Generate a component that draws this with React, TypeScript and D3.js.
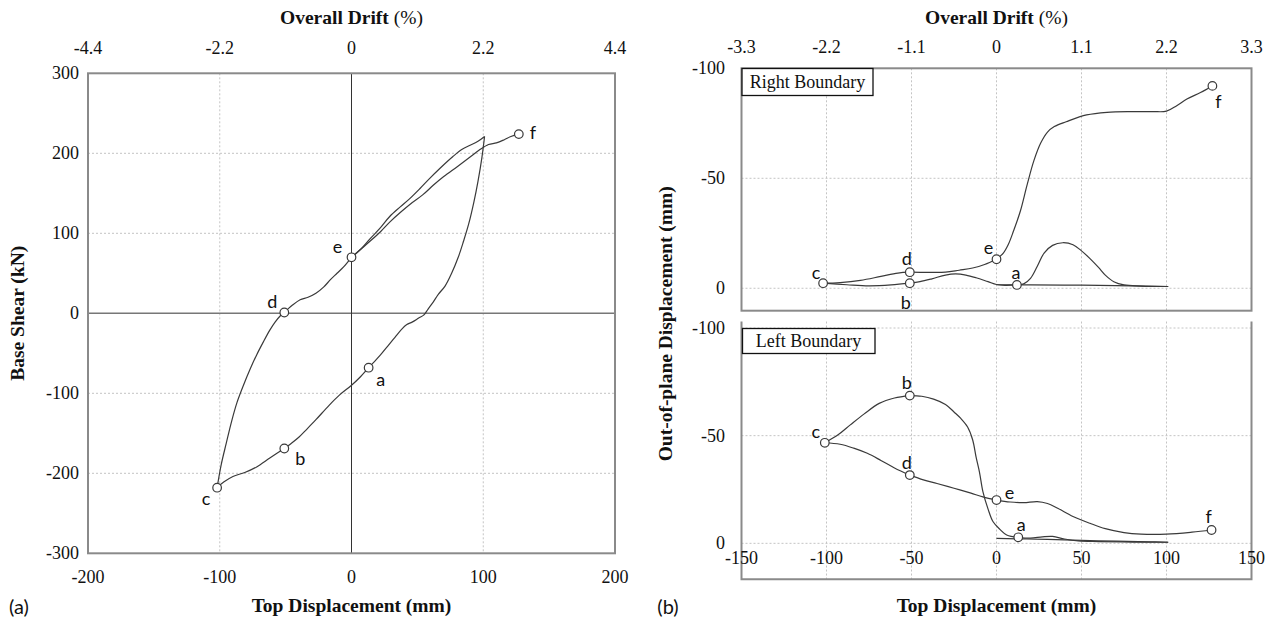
import React from 'react';
import * as d3 from 'd3';

type Pt = [number, number];

// ---------- Panel (a): base shear (kN) against top displacement (mm) ----------
const shearLoadToPeak: Pt[] = [
  [0, 70], [7, 80], [14, 93], [22, 107], [29, 121], [37, 133], [44, 143], [52, 156],
  [59, 168], [67, 181], [77, 196], [84, 205], [90, 210], [96, 215], [101, 221],
];
const shearUnloadToA: Pt[] = [
  [101, 221], [99, 195], [96, 165], [93, 140], [89, 112], [85, 90], [81, 70], [76, 50],
  [71, 34], [66, 24], [62, 14], [58, 5], [55, -2], [51, -6], [46, -11], [42, -14],
  [38, -20], [33, -30], [28, -40], [22, -52], [17, -61], [13, -68],
];
const shearAtoB: Pt[] = [
  [13, -68], [7, -79], [0, -90], [-9, -102], [-17, -115], [-27, -133], [-34, -145],
  [-40, -155], [-46, -163], [-51, -169],
];
const shearBtoC: Pt[] = [
  [-51, -169], [-62, -181], [-72, -192], [-81, -199], [-90, -204], [-97, -211], [-102, -218],
];
const shearCtoD: Pt[] = [
  [-102, -218], [-99, -190], [-95, -162], [-91, -135], [-87, -112], [-82, -90], [-77, -70],
  [-72, -52], [-67, -36], [-62, -21], [-58, -11], [-54, -3], [-51, 1],
];
const shearDtoE: Pt[] = [
  [-51, 1], [-45, 10], [-39, 17], [-33, 20], [-27, 25], [-21, 33], [-16, 42], [-11, 50],
  [-6, 58], [0, 70],
];
const shearEtoF: Pt[] = [
  [0, 70], [7, 80], [14, 90], [22, 102], [29, 114], [37, 126], [45, 137], [54, 148],
  [62, 160], [70, 171], [80, 183], [89, 194], [97, 204], [104, 211], [110, 213],
  [116, 217], [121, 221], [127, 224],
];
const shearMarkers: Pt[] = [[13, -68], [-51, -169], [-102, -218], [-51, 1], [0, 70], [127, 224]];

// ---------- Panel (b): out-of-plane displacement (mm) at the two boundaries ----------
const rightInitial: Pt[] = [[0, -1.6], [20, -1.5], [50, -1.4], [80, -1.1], [101, -0.8]];
const rightReturnToA: Pt[] = [
  [101, -0.8], [85, -1], [75, -1.5], [69, -3], [64, -6], [60, -9.5], [55, -13.5], [50, -17],
  [45, -19.8], [39, -20.7], [33, -19.5], [28, -16], [24, -10], [20, -4.5], [16, -2], [12, -1.5],
];
const rightAtoB: Pt[] = [
  [12, -1.5], [5, -1.3], [0, -1.7], [-5, -3], [-12, -4.8], [-18, -6], [-24, -6.5],
  [-30, -6], [-38, -4.3], [-45, -3], [-51, -2.3],
];
const rightBtoC: Pt[] = [[-51, -2.3], [-62, -1.5], [-75, -1.1], [-88, -1.6], [-102, -2.3]];
const rightCtoD: Pt[] = [[-102, -2.3], [-92, -2.6], [-80, -3.6], [-68, -5.4], [-58, -6.9], [-51, -7.3]];
const rightDtoE: Pt[] = [
  [-51, -7.3], [-40, -7.2], [-30, -7.3], [-22, -8.2], [-14, -9.2], [-7, -10.8], [0, -13.2],
];
const rightEtoF: Pt[] = [
  [0, -13.2], [4, -16], [7, -20], [10, -26], [14, -35], [18, -47], [22, -58], [26, -66],
  [30, -71], [34, -73.5], [41, -75.7], [53, -78.8], [65, -80], [80, -80.3], [92, -80.3],
  [100, -80.5], [106, -83], [112, -86], [120, -89], [127, -92],
];
const rightMarkers: Pt[] = [[12, -1.5], [-51, -2.3], [-102, -2.3], [-51, -7.3], [0, -13.2], [127, -92]];

const leftInitial: Pt[] = [[0, -2.3], [30, -1.8], [60, -1.2], [90, -0.7], [101, -0.5]];
const leftReturnToA: Pt[] = [
  [101, -0.5], [80, -0.6], [60, -0.8], [48, -1.1], [40, -2], [33, -3.2], [27, -3],
  [20, -2.4], [12.8, -2.8],
];
const leftAtoB: Pt[] = [
  [12.8, -2.8], [6, -3.9], [2, -6.5], [-2, -10], [-5, -16], [-8, -24], [-10, -33],
  [-12, -40], [-14, -48], [-17, -54], [-21, -58], [-25, -61], [-30, -64.5], [-37, -67],
  [-44, -68.3], [-51, -68.6],
];
const leftBtoC: Pt[] = [
  [-51, -68.6], [-60, -67.5], [-69, -65], [-78, -60], [-86, -55], [-93, -50.5], [-101, -46.7],
];
const leftCtoD: Pt[] = [
  [-101, -46.7], [-92, -46], [-84, -44.2], [-76, -41.8], [-68, -38.5], [-60, -35], [-51, -31.7],
];
const leftDtoE: Pt[] = [
  [-51, -31.7], [-43, -29.5], [-35, -27.8], [-25, -25.6], [-15, -23.3], [-8, -21.6], [0, -20.1],
];
const leftEtoF: Pt[] = [
  [0, -20.1], [8, -19.2], [16, -18.9], [24, -19.4], [30, -18.5], [36, -16.3], [45, -12.5],
  [55, -9.3], [64, -6.8], [75, -5], [85, -4.3], [100, -4.3], [115, -5.2], [126.5, -6.2],
];
const leftMarkers: Pt[] = [[12.8, -2.8], [-51, -68.6], [-101, -46.7], [-51, -31.7], [0, -20.1], [126.5, -6.2]];

const markerLetters = ['a', 'b', 'c', 'd', 'e', 'f'];

// ---------- ticks ----------
const shearTicks = [-300, -200, -100, 0, 100, 200, 300];
const dispTicksA = [-200, -100, 0, 100, 200];
const driftTicksA = [-4.4, -2.2, 0, 2.2, 4.4];
const dispTicksB = [-150, -100, -50, 0, 50, 100, 150];
const driftTicksB = [-3.3, -2.2, -1.1, 0, 1.1, 2.2, 3.3];
const outTicks = [-100, -50, 0];

// ---------- layout / style ----------
const SERIF = "'Liberation Serif', 'Times New Roman', Times, serif";
const SANS = "Lato, 'Open Sans', 'Noto Sans', sans-serif";
const FRAME = '#8a8a8a';
const GRID = '#c4c4c4';
const CURVE = '#3a3a3a';

// letter offsets (px) from each marker, order a..f
const offsetsA: Pt[] = [[12, 11], [16, 9], [-11, 10], [-12, -12], [-14, -11], [14, -2]];
const offsetsBR: Pt[] = [[-1, -13], [-4, 19], [-7, -11], [-3, -14], [-8, -12], [6, 15]];
const offsetsBL: Pt[] = [[3, -13], [-3, -14], [-9, -12], [-3, -13], [13, -8], [-3, -14]];

const xA = d3.scaleLinear().domain([-200, 200]).range([88, 615]);
const yA = d3.scaleLinear().domain([-300, 300]).range([553.3, 73.3]);
const xAd = d3.scaleLinear().domain([-4.4, 4.4]).range([88, 615]);

const xB = d3.scaleLinear().domain([-150, 150]).range([741.5, 1251.5]);
const xBd = d3.scaleLinear().domain([-3.3, 3.3]).range([741.5, 1251.5]);
const yBR = d3.scaleLinear().domain([-100, 10.2]).range([68.3, 310.7]);
const yBL = d3.scaleLinear().domain([-100, 16.7]).range([328, 579.3]);

function Curves({ segs, x, y }: { segs: Pt[][]; x: any; y: any }) {
  const line = d3
    .line<Pt>()
    .x((d) => x(d[0]))
    .y((d) => y(d[1]))
    .curve(d3.curveCatmullRom.alpha(0.5));
  return (
    <g fill="none" stroke={CURVE} strokeWidth={1.2} strokeLinejoin="round">
      {segs.map((s, i) => (
        <path key={i} d={line(s) || ''} />
      ))}
    </g>
  );
}

function Markers({ pts, offs, x, y }: { pts: Pt[]; offs: Pt[]; x: any; y: any }) {
  return (
    <g>
      {pts.map((p, i) => (
        <g key={i}>
          <circle cx={x(p[0])} cy={y(p[1])} r={4.3} fill="#fff" stroke={CURVE} strokeWidth={1.2} />
          <text
            x={x(p[0]) + offs[i][0]}
            y={y(p[1]) + offs[i][1]}
            textAnchor="middle"
            dominantBaseline="central"
            fontFamily={SANS}
            fontSize={18}
            fill="#111"
          >
            {markerLetters[i]}
          </text>
        </g>
      ))}
    </g>
  );
}

function DriftTitle({ x }: { x: number }) {
  return (
    <text x={x} y={24} textAnchor="middle" fontFamily={SERIF} fontSize={19.5} fill="#111">
      <tspan fontWeight="bold">Overall Drift </tspan>
      <tspan>(%)</tspan>
    </text>
  );
}

export default function App() {
  const [ax0, ax1] = xA.range();
  const [ay0, ay1] = [yA(300), yA(-300)];
  const [bx0, bx1] = xB.range();
  const brTop = yBR(-100);
  const brBot = yBR(10.2);
  const blTop = yBL(-103);
  const blBot = yBL(16.7);

  return (
    <svg
      width={1282}
      height={622}
      viewBox="0 0 1282 622"
      style={{ position: 'absolute', left: 0, top: 0, background: '#fff' }}
    >
      <rect x={0} y={0} width={1282} height={622} fill="#fff" />

      {/* ===== (a) ===== */}
      <g>
        {dispTicksA
          .filter((v) => v !== 0 && Math.abs(v) < 200)
          .map((v) => (
            <line key={'gx' + v} x1={xA(v)} x2={xA(v)} y1={ay0} y2={ay1} stroke={GRID} strokeWidth={1} strokeDasharray="2,2" />
          ))}
        {shearTicks
          .filter((v) => v !== 0 && Math.abs(v) < 300)
          .map((v) => (
            <line key={'gy' + v} x1={ax0} x2={ax1} y1={yA(v)} y2={yA(v)} stroke={GRID} strokeWidth={1} strokeDasharray="2,2" />
          ))}
        <line x1={ax0} x2={ax1} y1={yA(0)} y2={yA(0)} stroke="#777" strokeWidth={1.5} />
        <line x1={xA(0)} x2={xA(0)} y1={ay0} y2={ay1} stroke="#333" strokeWidth={1} />
        <rect x={ax0} y={ay0} width={ax1 - ax0} height={ay1 - ay0} fill="none" stroke={FRAME} strokeWidth={2} />

        <Curves
          segs={[shearLoadToPeak, shearUnloadToA, shearAtoB, shearBtoC, shearCtoD, shearDtoE, shearEtoF]}
          x={xA}
          y={yA}
        />
        <Markers pts={shearMarkers} offs={offsetsA} x={xA} y={yA} />

        {shearTicks.map((v) => (
          <text key={'ly' + v} x={79} y={yA(v)} textAnchor="end" dominantBaseline="central" fontFamily={SERIF} fontSize={18} fill="#111">
            {v}
          </text>
        ))}
        {dispTicksA.map((v) => (
          <text key={'lx' + v} x={xA(v)} y={577} textAnchor="middle" dominantBaseline="central" fontFamily={SERIF} fontSize={18} fill="#111">
            {v}
          </text>
        ))}
        {driftTicksA.map((v) => (
          <text key={'ld' + v} x={xAd(v)} y={48} textAnchor="middle" dominantBaseline="central" fontFamily={SERIF} fontSize={18} fill="#111">
            {String(v)}
          </text>
        ))}
        <DriftTitle x={(ax0 + ax1) / 2} />
        <text x={(ax0 + ax1) / 2} y={612} textAnchor="middle" fontFamily={SERIF} fontWeight="bold" fontSize={19.5} fill="#111">
          Top Displacement (mm)
        </text>
        <text
          transform={`translate(24,${yA(0)}) rotate(-90)`}
          textAnchor="middle"
          fontFamily={SERIF}
          fontWeight="bold"
          fontSize={19.5}
          fill="#111"
        >
          Base Shear (kN)
        </text>
        <text x={19} y={606} textAnchor="middle" dominantBaseline="central" fontFamily={SANS} fontSize={20} fill="#111">
          (a)
        </text>
      </g>

      {/* ===== (b) ===== */}
      <g>
        {/* gridlines, right boundary panel */}
        {dispTicksB
          .filter((v) => Math.abs(v) < 150)
          .map((v) => (
            <line key={'rgx' + v} x1={xB(v)} x2={xB(v)} y1={brTop} y2={brBot} stroke={GRID} strokeWidth={1} strokeDasharray="2,2" />
          ))}
        {outTicks
          .filter((v) => v !== -100)
          .map((v) => (
            <line key={'rgy' + v} x1={bx0} x2={bx1} y1={yBR(v)} y2={yBR(v)} stroke={GRID} strokeWidth={1} strokeDasharray="2,2" />
          ))}
        <rect x={bx0} y={brTop} width={bx1 - bx0} height={brBot - brTop} fill="none" stroke={FRAME} strokeWidth={2} />

        {/* gridlines, left boundary panel */}
        {dispTicksB
          .filter((v) => Math.abs(v) < 150)
          .map((v) => (
            <line key={'lgx' + v} x1={xB(v)} x2={xB(v)} y1={blTop} y2={blBot} stroke={GRID} strokeWidth={1} strokeDasharray="2,2" />
          ))}
        {outTicks.map((v) => (
          <line key={'lgy' + v} x1={bx0} x2={bx1} y1={yBL(v)} y2={yBL(v)} stroke={GRID} strokeWidth={1} strokeDasharray="2,2" />
        ))}
        <path
          d={`M${bx0},${blTop}V${blBot}H${bx1}V${blTop}`}
          fill="none"
          stroke={FRAME}
          strokeWidth={2}
        />

        <Curves
          segs={[rightInitial, rightReturnToA, rightAtoB, rightBtoC, rightCtoD, rightDtoE, rightEtoF]}
          x={xB}
          y={yBR}
        />
        <Markers pts={rightMarkers} offs={offsetsBR} x={xB} y={yBR} />

        <Curves
          segs={[leftInitial, leftReturnToA, leftAtoB, leftBtoC, leftCtoD, leftDtoE, leftEtoF]}
          x={xB}
          y={yBL}
        />
        <Markers pts={leftMarkers} offs={offsetsBL} x={xB} y={yBL} />

        {/* panel captions */}
        <rect x={742} y={68.5} width={131} height={27} fill="#fff" stroke="#111" strokeWidth={1.3} />
        <text x={807.5} y={82} textAnchor="middle" dominantBaseline="central" fontFamily={SERIF} fontSize={18} fill="#111">
          Right Boundary
        </text>
        <rect x={742.5} y={328.5} width={132.5} height={25} fill="#fff" stroke="#111" strokeWidth={1.3} />
        <text x={808.5} y={341} textAnchor="middle" dominantBaseline="central" fontFamily={SERIF} fontSize={18} fill="#111">
          Left Boundary
        </text>

        {outTicks.map((v) => (
          <text key={'rly' + v} x={725} y={yBR(v)} textAnchor="end" dominantBaseline="central" fontFamily={SERIF} fontSize={18} fill="#111">
            {v}
          </text>
        ))}
        {outTicks.map((v) => (
          <text key={'lly' + v} x={725} y={yBL(v)} textAnchor="end" dominantBaseline="central" fontFamily={SERIF} fontSize={18} fill="#111">
            {v}
          </text>
        ))}
        {dispTicksB.map((v) => (
          <text key={'blx' + v} x={xB(v)} y={558} textAnchor="middle" dominantBaseline="central" fontFamily={SERIF} fontSize={18} fill="#111">
            {v}
          </text>
        ))}
        {driftTicksB.map((v) => (
          <text key={'bld' + v} x={xBd(v)} y={46.5} textAnchor="middle" dominantBaseline="central" fontFamily={SERIF} fontSize={18} fill="#111">
            {String(v)}
          </text>
        ))}
        <DriftTitle x={(bx0 + bx1) / 2} />
        <text x={(bx0 + bx1) / 2} y={612} textAnchor="middle" fontFamily={SERIF} fontWeight="bold" fontSize={19.5} fill="#111">
          Top Displacement (mm)
        </text>
        <text
          transform={`translate(672,${(brTop + blBot) / 2}) rotate(-90)`}
          textAnchor="middle"
          fontFamily={SERIF}
          fontWeight="bold"
          fontSize={19.5}
          fill="#111"
        >
          Out-of-plane Displacement (mm)
        </text>
        <text x={668} y={606} textAnchor="middle" dominantBaseline="central" fontFamily={SANS} fontSize={20} fill="#111">
          (b)
        </text>
      </g>
    </svg>
  );
}
